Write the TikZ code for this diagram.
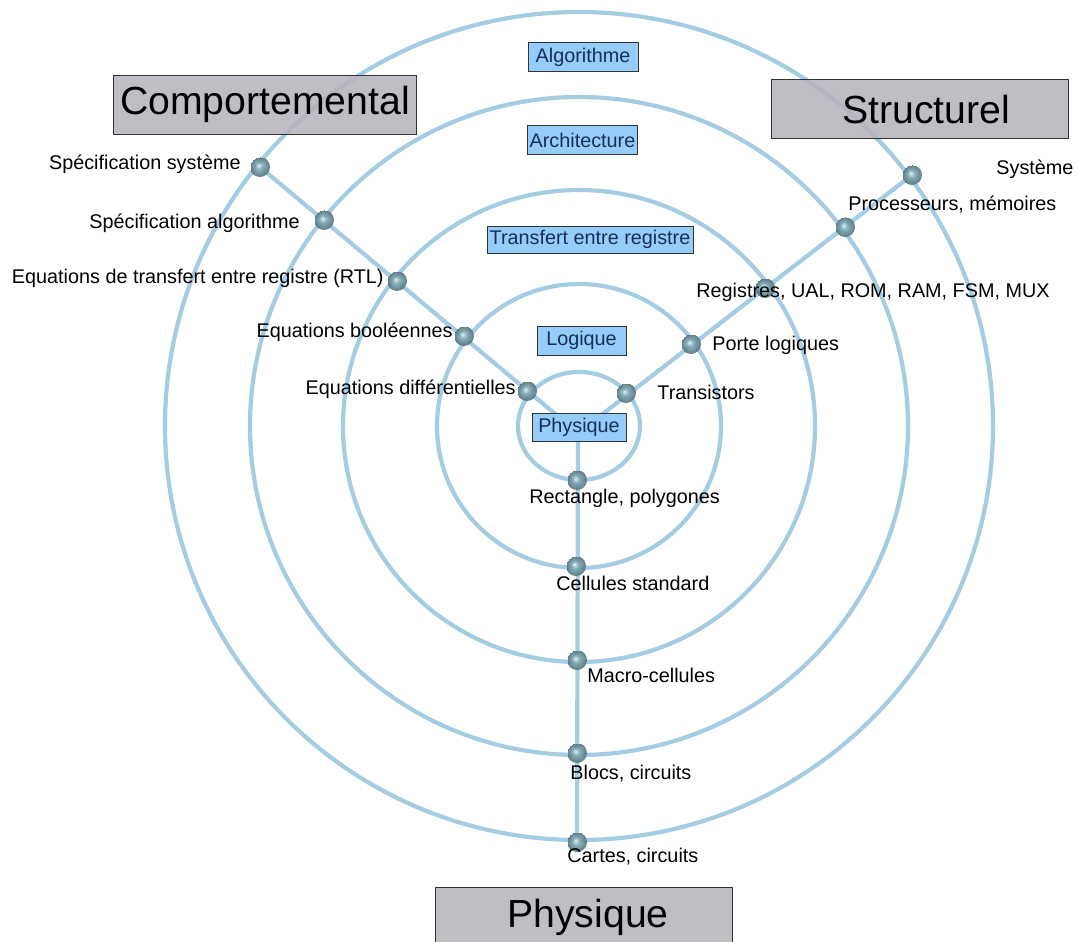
\documentclass[tikz,border=0pt]{standalone}
\usepackage{fontspec}
\setmainfont{Liberation Sans}
\usetikzlibrary{positioning}
\definecolor{Ring}{RGB}{164, 204, 226}
\definecolor{Level}{RGB}{150, 204, 250}
\definecolor{LevelText}{RGB}{22, 48, 88}
\definecolor{Domain}{RGB}{182, 178, 187}
\definecolor{Joint}{RGB}{125, 170, 182}
\pgfdeclareradialshading{jointball}{\pgfpoint{-4bp}{4bp}}{%
    color(0bp)=(white!85!Joint); color(9bp)=(Joint); color(18bp)=(Joint!80!black); color(25bp)=(Joint!65!black)}

\begin{document}
\begin{tikzpicture}[x=0.5pt, y=-0.5pt,
    ring/.style={draw=Ring, line width=2.1pt},
    joint/.style={circle, inner sep=0pt, minimum size=10pt, shading=jointball, opacity=0.9},
    level/.style={draw=black!80, fill=Level, text=LevelText, inner sep=1pt,
        minimum height=14.5pt, font=\fontsize{9.9}{12}\selectfont},
    viewbox/.style={draw=black!80, fill=Domain, fill opacity=0.85, text opacity=1,
        minimum width=148.5pt, minimum height=29.5pt, font=\fontsize{19.6}{24}\selectfont},
    item/.style={inner sep=0pt, font=\fontsize{9.9}{12}\selectfont}]
    %%Background
    \useasboundingbox (0,0) rectangle (1078,942);

    %% Rings
    \coordinate (centre) at (579,426);
    \draw[ring] (centre) circle[radius=414];
    \draw[ring] (centre) circle[radius=329];
    \draw[ring] (centre) circle[radius=236];
    \draw[ring] (centre) circle[radius=142];
    \draw[ring] (centre) ellipse[x radius=61, y radius=54];

    %% Axes
    \coordinate (hub) at (578,433);
    \coordinate (b1) at (260,167);
    \coordinate (b2) at (324,220);
    \coordinate (b3) at (397,281);
    \coordinate (b4) at (464,336);
    \coordinate (b5) at (527,391);
    \coordinate (s1) at (912,175);
    \coordinate (s2) at (845,227);
    \coordinate (s3) at (765,288);
    \coordinate (s4) at (691,344);
    \coordinate (s5) at (626,393);
    \coordinate (p1) at (577,842);
    \coordinate (p2) at (577,753);
    \coordinate (p3) at (577,660);
    \coordinate (p4) at (576,566);
    \coordinate (p5) at (577,480);
    \draw[ring] (hub) -- (b1);
    \draw[ring] (hub) -- (s1);
    \draw[ring] (hub) -- (p1);

    %% Views
    \node[viewbox] (comp) at (265,104.5) {Comportemental};
    \node[viewbox] (struct) at (920,109) {\hspace*{6pt}Structurel};
    \node[viewbox] (phys) at (584,917) {\hspace*{4pt}Physique};

    %% Levels
    \node[level, minimum width=55pt] (algo) at (583,57) {Algorithme};
    \node[level, minimum width=54.5pt] (archi) at (582.5,140) {Architecture};
    \node[level, minimum width=103pt, minimum height=13.5pt] (rtl) at (590,239.5) {Transfert entre registre};
    \node[level, minimum width=44.5pt] (logic) at (581.5,340.5) {Logique};
    \node[level, minimum width=47pt, minimum height=14pt] (circ) at (579,427) {Physique};

    %% Joints
    \node[joint] (jb1) at (b1) {};
    \node[joint] (jb2) at (b2) {};
    \node[joint] (jb3) at (b3) {};
    \node[joint] (jb4) at (b4) {};
    \node[joint] (jb5) at (b5) {};
    \node[joint] (js1) at (s1) {};
    \node[joint] (js2) at (s2) {};
    \node[joint] (js3) at (s3) {};
    \node[joint] (js4) at (s4) {};
    \node[joint] (js5) at (s5) {};
    \node[joint] (jp1) at (p1) {};
    \node[joint] (jp2) at (p2) {};
    \node[joint] (jp3) at (p3) {};
    \node[joint] (jp4) at (p4) {};
    \node[joint] (jp5) at (p5) {};

    %% Behavioural labels
    \node[item, anchor=east] (tb1) at (241,164) {Spécification système};
    \node[item, anchor=east] (tb2) at (300,223) {Spécification algorithme};
    \node[item, anchor=east] (tb3) at (384,278) {Equations de transfert entre registre (RTL)};
    \node[item, anchor=east] (tb4) at (453,332) {Equations booléennes};
    \node[item, anchor=east] (tb5) at (516,389) {Equations différentielles};

    %% Structural labels
    \node[item, anchor=west] (ts1) at (996,169) {Système};
    \node[item, anchor=west] (ts2) at (848,204) {Processeurs, mémoires};
    \node[item, anchor=west] (ts3) at (696,292) {Registres, UAL, ROM, RAM, FSM, MUX};
    \node[item, anchor=west] (ts4) at (712,345) {Porte logiques};
    \node[item, anchor=west] (ts5) at (657,392) {Transistors};

    %% Physical labels
    \node[item, anchor=west] (tp5) at (529,498) {Rectangle, polygones};
    \node[item, anchor=west] (tp4) at (556,583) {Cellules standard};
    \node[item, anchor=west] (tp3) at (587,675) {Macro-cellules};
    \node[item, anchor=west] (tp2) at (570,774) {Blocs, circuits};
    \node[item, anchor=west] (tp1) at (567,857) {Cartes, circuits};

\end{tikzpicture}
\end{document}
